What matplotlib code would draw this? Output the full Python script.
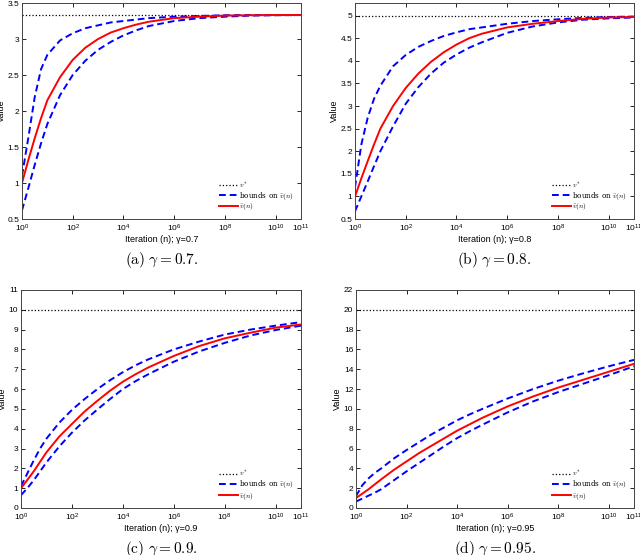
import matplotlib
matplotlib.use("Agg")
import matplotlib.pyplot as plt
import numpy as np
from matplotlib.ticker import FixedLocator, FuncFormatter, NullLocator, LogFormatterSciNotation

plt.rcParams['font.family'] = ['Liberation Sans', 'DejaVu Sans']
plt.rcParams['mathtext.fontset'] = 'cm'

# iteration grid as powers of ten
iter_exp = [0, 0.25, 0.5, 0.75, 1, 1.5, 2, 2.5, 3, 3.5, 4, 4.5, 5, 6, 7, 8, 9, 10, 11]

gammas = [0.7, 0.8, 0.9, 0.95]
v_star = [3.333, 5.0, 10.0, 20.0]
panel_letters = ['a', 'b', 'c', 'd']

red_a = [1.0, 1.32, 1.62, 1.90, 2.15, 2.47, 2.71, 2.88, 3.00, 3.09, 3.15, 3.20, 3.24, 3.29, 3.31, 3.325, 3.33, 3.333, 3.333]
upper_a = [1.10, 1.63, 2.19, 2.58, 2.78, 2.98, 3.08, 3.15, 3.19, 3.23, 3.25, 3.27, 3.29, 3.31, 3.32, 3.33, 3.333, 3.333, 3.333]
lower_a = [0.62, 0.93, 1.25, 1.55, 1.82, 2.22, 2.50, 2.70, 2.85, 2.96, 3.05, 3.12, 3.18, 3.25, 3.29, 3.31, 3.325, 3.33, 3.333]

red_b = [1.0, 1.40, 1.78, 2.15, 2.50, 3.00, 3.40, 3.72, 3.98, 4.19, 4.36, 4.50, 4.60, 4.74, 4.82, 4.88, 4.93, 4.96, 4.97]
upper_b = [1.20, 2.15, 2.74, 3.16, 3.45, 3.88, 4.13, 4.31, 4.44, 4.55, 4.63, 4.70, 4.74, 4.82, 4.88, 4.92, 4.95, 4.97, 4.98]
lower_b = [0.67, 1.00, 1.33, 1.67, 2.00, 2.55, 3.05, 3.42, 3.72, 3.96, 4.14, 4.29, 4.41, 4.62, 4.76, 4.85, 4.91, 4.94, 4.96]

red_c = [1.0, 1.42, 1.85, 2.33, 2.81, 3.60, 4.24, 4.87, 5.41, 5.92, 6.37, 6.75, 7.09, 7.67, 8.17, 8.56, 8.84, 9.10, 9.26]
upper_c = [1.10, 1.75, 2.40, 3.00, 3.50, 4.30, 4.95, 5.50, 6.00, 6.45, 6.85, 7.20, 7.50, 8.00, 8.40, 8.75, 9.00, 9.20, 9.38]
lower_c = [0.65, 1.00, 1.40, 1.85, 2.30, 3.10, 3.80, 4.42, 4.97, 5.50, 6.00, 6.40, 6.75, 7.38, 7.90, 8.33, 8.70, 8.98, 9.20]

red_d = [1.0, 1.45, 1.90, 2.40, 2.90, 3.85, 4.70, 5.55, 6.30, 7.05, 7.80, 8.45, 9.10, 10.25, 11.25, 12.15, 12.95, 13.75, 14.55]
upper_d = [1.20, 2.30, 3.00, 3.55, 4.00, 5.00, 5.85, 6.65, 7.45, 8.15, 8.85, 9.45, 10.00, 11.05, 12.00, 12.85, 13.60, 14.30, 14.95]
lower_d = [0.65, 0.95, 1.25, 1.55, 1.90, 2.80, 3.70, 4.55, 5.40, 6.25, 7.05, 7.75, 8.40, 9.65, 10.75, 11.70, 12.55, 13.40, 14.30]

ylims = [(0.5, 3.5), (0.5, 5.28), (0, 11), (0, 22)]
yticks = [np.arange(0.5, 3.51, 0.5), np.arange(0.5, 5.01, 0.5), np.arange(0, 11.1, 1), np.arange(0, 22.1, 2)]
x_tick_exp = [0, 2, 4, 6, 8, 10, 11]

reds = [red_a, red_b, red_c, red_d]
uppers = [upper_a, upper_b, upper_c, upper_d]
lowers = [lower_a, lower_b, lower_c, lower_d]

W, H = 640, 555
fig = plt.figure(figsize=(W / 100, H / 100), dpi=100)

# axes boxes in pixels: left, top, right, bottom
boxes = [(22, 3, 301, 219), (355, 3, 634, 219), (21, 290, 301, 508), (356, 290, 634, 508)]

x = [10.0 ** e for e in iter_exp]

for i in range(4):
    l, t, r, b = boxes[i]
    ax = fig.add_axes([l / W, (H - b) / H, (r - l) / W, (b - t) / H])
    ax.set_xscale('log')
    ax.plot([1, 1e11], [v_star[i], v_star[i]], color='black', linestyle=':', linewidth=0.9, label=r'$v^*$')
    ax.plot(x, uppers[i], color='#0000ff', linestyle='--', dashes=(3.5, 2), linewidth=1.4, label=r'bounds on $\bar{v}(n)$')
    ax.plot(x, lowers[i], color='#0000ff', linestyle='--', dashes=(3.5, 2), linewidth=1.4)
    ax.plot(x, reds[i], color='#ff0000', linestyle='-', linewidth=1.4, label=r'$\bar{v}(n)$')
    ax.set_xlim(1, 1e11)
    ax.set_ylim(*ylims[i])
    ax.xaxis.set_major_locator(FixedLocator([10.0 ** e for e in x_tick_exp]))
    ax.xaxis.set_major_formatter(LogFormatterSciNotation())
    ax.xaxis.set_minor_locator(NullLocator())
    ax.set_yticks(yticks[i])
    ax.yaxis.set_major_formatter(FuncFormatter(lambda v, p: '%g' % v))
    ax.tick_params(direction='in', top=True, right=True, labelsize=6, length=3, width=0.6, pad=2)
    ax.tick_params(axis='x', pad=2.5)
    for s in ax.spines.values():
        s.set_linewidth(0.7)
        s.set_color('#444444')
    ax.set_xlabel('Iteration (n); \u03b3=%g' % gammas[i], fontsize=6.5, labelpad=1)
    ax.set_ylabel('Value', fontsize=6.5, labelpad=1)
    leg = ax.legend(loc='lower right', frameon=False, fontsize=5.2, handlelength=2.6,
                    handletextpad=0.2, labelspacing=0.0, borderaxespad=0.5)
    for txt in leg.get_texts():
        txt.set_family('serif')
    cx = (l + r) / 2 / W
    cy = (H - (b + 41)) / H
    fig.text(cx, cy, r'$\mathrm{(%s)}\ \gamma = %g.$' % (panel_letters[i], gammas[i]),
             ha='center', va='center', fontsize=11)

fig.savefig('out.png', dpi=100)
